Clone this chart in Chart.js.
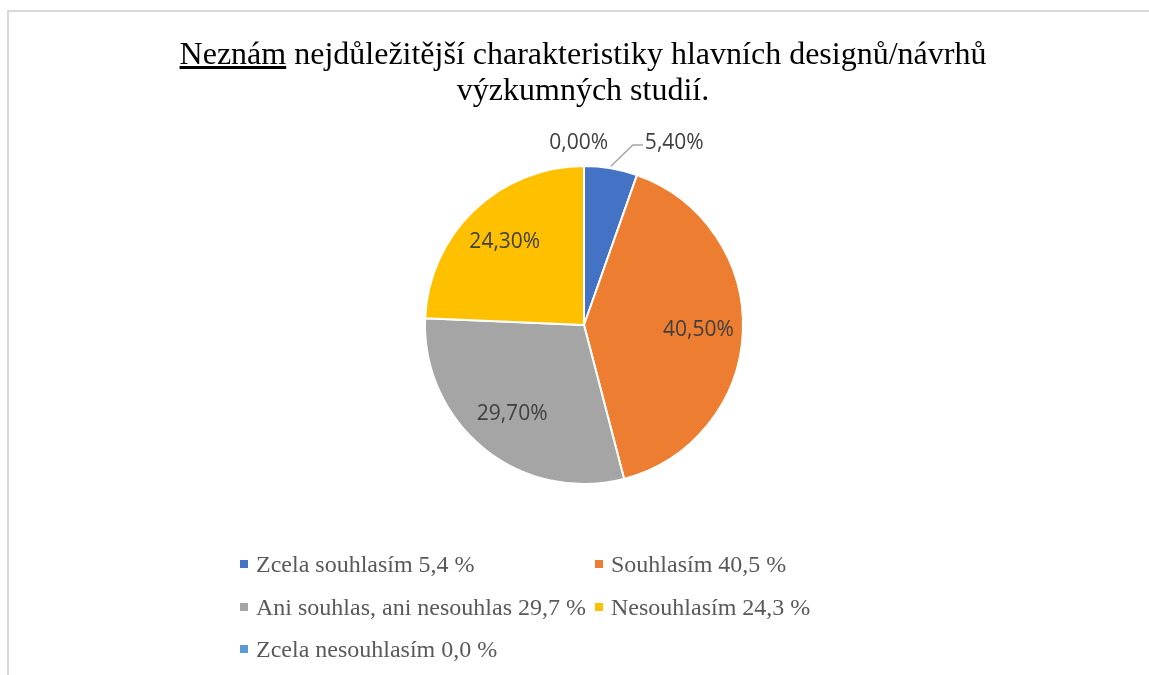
<!DOCTYPE html>
<html lang="cs">
<head>
  <meta charset="UTF-8">
  <title>Neznám nejdůležitější charakteristiky</title>
  <script src="https://cdn.jsdelivr.net/npm/chart.js"></script>
  <style>
    html, body {
      margin: 0;
      padding: 0;
      background: #ffffff;
      width: 1149px;
      height: 675px;
      overflow: hidden;
    }
    /* light frame, only top and left edge are visible */
    .frame {
      position: absolute;
      left: 7px;
      top: 10px;
      width: 2000px;
      height: 2000px;
      border-left: 2px solid #d9d9d9;
      border-top: 2px solid #d9d9d9;
    }
    .chart-title {
      position: absolute;
      left: 83px;
      top: 35px;
      width: 1000px;
      margin: 0;
      text-align: center;
      font-family: "Liberation Serif", "Times New Roman", serif;
      font-weight: normal;
      font-size: 32px;
      line-height: 36px;
      color: #000000;
    }
    .chart-wrap {
      position: absolute;
      left: 0;
      top: 0;
      width: 1149px;
      height: 675px;
    }
    /* Legend: two columns */
    .legend {
      position: absolute;
      left: 240px;
      top: 543px;
      display: grid;
      grid-template-columns: 355px auto;
      grid-auto-rows: 42.5px;
      font-family: "Liberation Serif", "Times New Roman", serif;
      font-size: 24px;
      color: #595959;
    }
    .legend-item {
      display: flex;
      align-items: center;
      white-space: nowrap;
      line-height: 42px;
    }
    .legend-box {
      width: 8px;
      height: 8px;
      margin-right: 8px;
      flex: none;
    }
  </style>
</head>
<body>
  <div class="frame"></div>
  <div class="chart-wrap">
    <canvas id="pieChart" width="1149" height="675"></canvas>
  </div>
  <h1 class="chart-title"><u>Neznám</u> nejdůležitější charakteristiky hlavních designů/návrhů<br>výzkumných studií.</h1>
  <div class="legend" id="legend"></div>

  <script>
    const categories = ['Zcela souhlasím', 'Souhlasím', 'Ani souhlas, ani nesouhlas', 'Nesouhlasím', 'Zcela nesouhlasím'];
    const values = [5.4, 40.5, 29.7, 24.3, 0.0];
    const colors = ['#4472C4', '#ED7D31', '#A5A5A5', '#FFC000', '#5B9BD5'];

    function pct2(v) { return v.toFixed(2).replace('.', ',') + '%'; }
    function pct1(v) { return v.toFixed(1).replace('.', ',') + ' %'; }

    // build the legend from the same arrays
    const legendEl = document.getElementById('legend');
    categories.forEach((name, i) => {
      const item = document.createElement('div');
      item.className = 'legend-item';
      const box = document.createElement('span');
      box.className = 'legend-box';
      box.style.background = colors[i];
      item.appendChild(box);
      item.appendChild(document.createTextNode(name + ' ' + pct1(values[i])));
      legendEl.appendChild(item);
    });

    // data labels (no datalabels plugin available, so draw them here)
    const sliceLabels = {
      id: 'sliceLabels',
      afterDatasetsDraw(chart) {
        const ctx = chart.ctx;
        const meta = chart.getDatasetMeta(0);
        ctx.save();
        ctx.font = '21px "Open Sans", "Liberation Sans", sans-serif';
        ctx.fillStyle = '#404040';
        ctx.textBaseline = 'middle';
        meta.data.forEach((arc, i) => {
          const p = arc.getProps(['x', 'y', 'startAngle', 'endAngle', 'outerRadius'], true);
          const mid = (p.startAngle + p.endAngle) / 2;
          const r = p.outerRadius;
          const text = pct2(values[i]);
          if (values[i] >= 10) {
            ctx.textAlign = 'center';
            ctx.fillText(text, p.x + Math.cos(mid) * r * 0.72, p.y + Math.sin(mid) * r * 0.72);
          } else if (values[i] > 0) {
            // outside label with leader line
            const ex = p.x + Math.cos(mid) * r;
            const ey = p.y + Math.sin(mid) * r;
            const ly = p.y - r - 21;
            const lx = ex + 22;
            ctx.strokeStyle = '#a6a6a6';
            ctx.lineWidth = 1.5;
            ctx.beginPath();
            ctx.moveTo(ex, ey - 2);
            ctx.lineTo(lx, ly);
            ctx.lineTo(lx + 10, ly);
            ctx.stroke();
            ctx.textAlign = 'left';
            ctx.fillText(text, lx + 12, p.y - r - 23);
          } else {
            ctx.textAlign = 'right';
            ctx.fillText(text, p.x + 24, p.y - r - 23);
          }
        });
        ctx.restore();
      }
    };

    new Chart(document.getElementById('pieChart').getContext('2d'), {
      type: 'pie',
      data: {
        labels: categories,
        datasets: [{
          data: values,
          backgroundColor: colors,
          borderColor: '#ffffff',
          borderWidth: 2
        }]
      },
      options: {
        responsive: false,
        animation: false,
        layout: {
          padding: { left: 424, right: 405, top: 165, bottom: 190 }
        },
        plugins: {
          legend: { display: false },
          title: { display: false },
          tooltip: { enabled: false }
        }
      },
      plugins: [sliceLabels]
    });
  </script>
</body>
</html>
